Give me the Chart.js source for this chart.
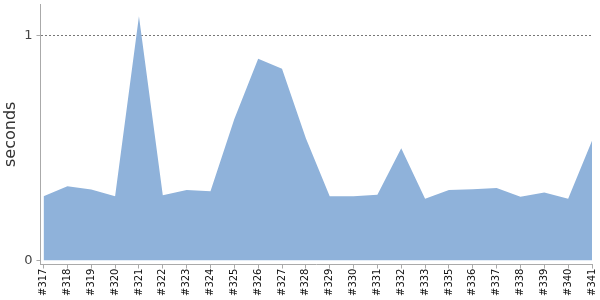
<!DOCTYPE html>
<html>
<head>
<meta charset="utf-8">
<script src="https://cdn.jsdelivr.net/npm/chart.js@4/dist/chart.umd.min.js"></script>
<style>
  html, body { margin: 0; padding: 0; background: #fff; }
  #wrap { width: 600px; height: 300px; }
</style>
</head>
<body>
<div id="wrap"><canvas id="chart"></canvas></div>
<script>
// Build numbers along the x axis (#334 is absent in the source)
const builds = ['#317', '#318', '#319', '#320', '#321', '#322', '#323', '#324',
    '#325', '#326', '#327', '#328', '#329', '#330', '#331', '#332', '#333',
    '#335', '#336', '#337', '#338', '#339', '#340', '#341'];

// Duration per build, in seconds
const seconds = [0.285, 0.329, 0.315, 0.285, 1.085, 0.289, 0.312, 0.307,
    0.628, 0.896, 0.851, 0.542, 0.285, 0.285, 0.291, 0.498, 0.273,
    0.312, 0.316, 0.321, 0.282, 0.301, 0.273, 0.531];

const yTicks = [0, 1];

const points = seconds.map((v, i) => ({ x: i, y: v }));

new Chart(document.getElementById('chart'), {
    type: 'line',
    data: {
        datasets: [{
            data: points,
            fill: 'origin',
            backgroundColor: '#8fb2da',
            borderWidth: 0,
            pointRadius: 0,
            tension: 0
        }]
    },
    options: {
        responsive: true,
        maintainAspectRatio: false,
        animation: false,
        layout: { padding: { top: 4, right: 0, left: 1, bottom: 4 } },
        plugins: {
            legend: { display: false },
            tooltip: { enabled: false }
        },
        scales: {
            x: {
                type: 'linear',
                min: -0.13,
                max: builds.length - 1,
                afterBuildTicks: axis => {
                    axis.ticks = builds.map((b, i) => ({ value: i }));
                },
                afterFit: axis => {
                    axis.paddingRight = 8;
                },
                ticks: {
                    autoSkip: false,
                    minRotation: 90,
                    maxRotation: 90,
                    padding: 0,
                    color: '#111',
                    font: { family: 'DejaVu Sans', size: 10 },
                    callback: value => builds[value]
                },
                grid: {
                    drawOnChartArea: false,
                    drawTicks: true,
                    tickLength: 4,
                    tickColor: '#aaa'
                },
                border: { color: '#aaa' }
            },
            y: {
                min: -0.019,
                max: 1.139,
                afterBuildTicks: axis => {
                    axis.ticks = yTicks.map(v => ({ value: v }));
                },
                // the top tick is not at the edge, so no room is needed above it
                afterFit: axis => {
                    axis.paddingTop = 0;
                },
                ticks: {
                    color: '#444',
                    padding: 4,
                    font: { family: 'DejaVu Sans', size: 13 }
                },
                grid: {
                    color: ctx => ctx.tick && ctx.tick.value === 1 ? '#777' : 'transparent',
                    tickColor: '#aaa',
                    tickLength: 4,
                    drawTicks: true
                },
                border: { color: '#aaa', dash: [2, 2] },
                title: {
                    display: true,
                    text: 'seconds',
                    color: '#333',
                    padding: 0,
                    font: { family: 'DejaVu Sans', size: 16 }
                }
            }
        }
    }
});
</script>
</body>
</html>
